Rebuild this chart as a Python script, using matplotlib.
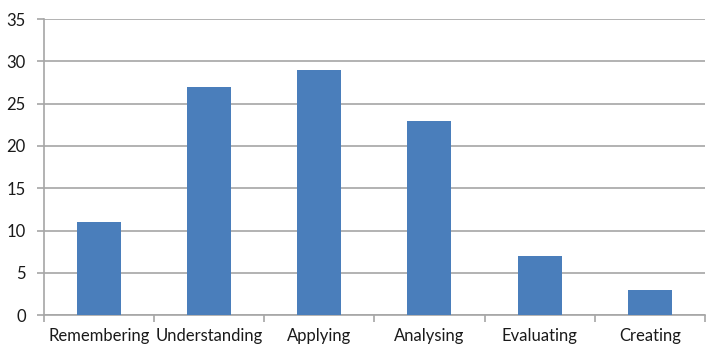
import numpy as np
import matplotlib.pyplot as plt

categories = ['Remembering', 'Understanding', 'Applying', 'Analysing', 'Evaluating', 'Creating']
values = [11, 27, 29, 23, 7, 3]
y_ticks = [0, 5, 10, 15, 20, 25, 30, 35]

plt.rcParams['font.family'] = ['Lato', 'DejaVu Sans']

fig = plt.figure(figsize=(7.07, 3.47), dpi=100)
ax = fig.add_axes([0.062, 0.092, 0.935, 0.853])

x = np.arange(len(categories))
ax.bar(x, values, width=0.4, color='#4a7ebb', zorder=3)

grid_col = '#a6a6a6'
ax.set_xlim(-0.5, len(categories) - 0.5)
ax.set_ylim(0, 35)
ax.set_yticks(y_ticks)
ax.yaxis.grid(True, color=grid_col, linewidth=1.2, zorder=0)

ax.set_xticks(x)
ax.set_xticklabels(categories, fontsize=12, color='#1a1a1a')
ax.tick_params(axis='x', length=0, pad=9)
ax.set_xticks(np.arange(-0.5, len(categories), 1), minor=True)
ax.tick_params(axis='x', which='minor', length=5, color=grid_col, width=1.2)
ax.tick_params(axis='y', length=5, color=grid_col, width=1.2, labelsize=12,
               labelcolor='#1a1a1a', pad=8)

for s in ['top', 'right']:
    ax.spines[s].set_visible(False)
for s in ['left', 'bottom']:
    ax.spines[s].set_color(grid_col)
    ax.spines[s].set_linewidth(1.2)

fig.savefig('out.png', dpi=100)
